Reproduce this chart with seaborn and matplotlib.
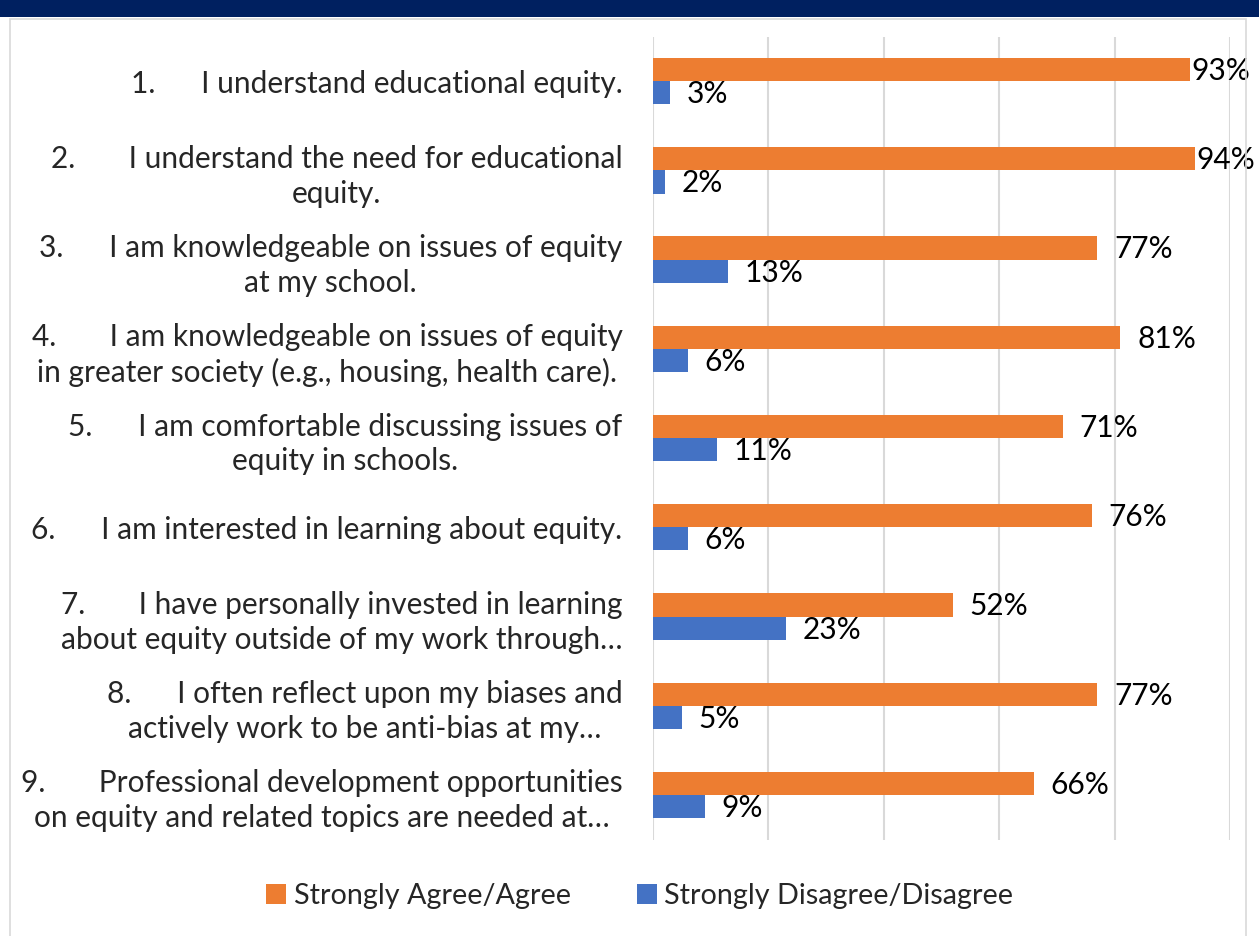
import matplotlib.pyplot as plt
import matplotlib.patches as mpatches
import pandas as pd
import seaborn as sns

items = [
    "1.      I understand educational equity.",
    "2.       I understand the need for educational\nequity.",
    "3.      I am knowledgeable on issues of equity\nat my school.",
    "4.       I am knowledgeable on issues of equity\nin greater society (e.g., housing, health care).",
    "5.      I am comfortable discussing issues of\nequity in schools.",
    "6.      I am interested in learning about equity.",
    "7.       I have personally invested in learning\nabout equity outside of my work through\u2026",
    "8.      I often reflect upon my biases and\nactively work to be anti-bias at my\u2026",
    "9.       Professional development opportunities\non equity and related topics are needed at\u2026",
]
agree = [93, 94, 77, 81, 71, 76, 52, 77, 66]
disagree = [3, 2, 13, 6, 11, 6, 23, 5, 9]
series_names = ["Strongly Agree/Agree", "Strongly Disagree/Disagree"]
x_ticks = [0, 20, 40, 60, 80, 100]

ORANGE = "#ED7D31"
BLUE = "#4472C4"

df = pd.DataFrame(
    {
        "item": items * 2,
        "value": agree + disagree,
        "response": [series_names[0]] * len(items) + [series_names[1]] * len(items),
    }
)

sns.set_style("white")
plt.rcParams["font.family"] = ["Lato", "DejaVu Sans"]
LABEL_FS = 21.5
VALUE_FS = 21.5
LEGEND_FS = 20.7

fig = plt.figure(figsize=(12.59, 9.36), dpi=100)
ax = fig.add_axes([0.5187, 0.103, 0.977 - 0.5187, 0.961 - 0.103])

sns.barplot(
    data=df,
    y="item",
    x="value",
    hue="response",
    hue_order=series_names,
    palette=[ORANGE, BLUE],
    saturation=1,
    orient="h",
    width=0.52,
    linewidth=0,
    errorbar=None,
    ax=ax,
)

# value labels next to each bar
for container in ax.containers:
    for patch in container:
        width = patch.get_width()
        pad = 1 if width >= 90 else 12
        ax.annotate(
            f"{width:.0f}%",
            xy=(width, patch.get_y() + patch.get_height() / 2),
            xytext=(pad, -1),
            textcoords="offset points",
            ha="left",
            va="center",
            fontsize=VALUE_FS,
            color="#000000",
        )

ax.set_xlim(0, 100)
ax.set_xticks(x_ticks)
ax.set_xticklabels([])
ax.set_xlabel("")
ax.set_ylabel("")
ax.grid(axis="x", color="#D9D9D9", linewidth=1.5)
ax.set_axisbelow(True)
for spine in ax.spines.values():
    spine.set_visible(False)
ax.tick_params(axis="both", length=0)
ax.tick_params(axis="y", pad=22, labelsize=LABEL_FS)
for label in ax.get_yticklabels():
    label.set_multialignment("center")
    label.set_linespacing(1.3)

handles, labels = ax.get_legend_handles_labels()
ax.get_legend().remove()
fig.legend(
    handles,
    labels,
    loc="center",
    bbox_to_anchor=(0.508, 0.043),
    ncol=2,
    frameon=False,
    fontsize=LEGEND_FS,
    handlelength=0.7,
    handleheight=0.7,
    handletextpad=0.25,
    columnspacing=2.3,
)

# frame: navy band on top, light gray border
fig.patches.append(
    mpatches.Rectangle((0, 1 - 17 / 936), 1, 17 / 936, transform=fig.transFigure,
                       facecolor="#002060", edgecolor="none", zorder=0)
)
fig.patches.append(
    mpatches.Rectangle((10 / 1259, -0.01), 1246 / 1259 - 10 / 1259, 1 - 19 / 936 + 0.01,
                       transform=fig.transFigure, facecolor="none",
                       edgecolor="#D9D9D9", linewidth=1.2, zorder=0)
)

fig.savefig("out.png", dpi=100)
